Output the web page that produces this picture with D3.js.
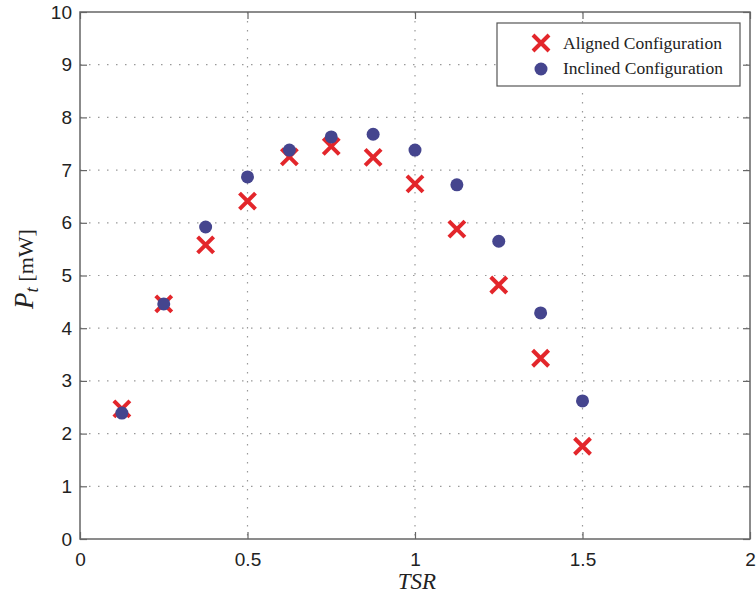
<!DOCTYPE html>
<html lang="en">
<head>
<meta charset="UTF-8">
<title>TSR vs Pt</title>
<script src="https://d3js.org/d3.v7.min.js"></script>
<style>
    * { margin: 0; padding: 0; }
    body { background: #fff; }
    .tick text { font-family: "Liberation Sans", Arial, sans-serif; font-size: 19px; fill: #222; }
</style>
</head>
<body>
<script>
    // data
    var tsr = [0.125, 0.25, 0.375, 0.5, 0.625, 0.75, 0.875, 1.0, 1.125, 1.25, 1.375, 1.5]
    var aligned = [2.47, 4.46, 5.58, 6.41, 7.25, 7.45, 7.24, 6.74, 5.88, 4.82, 3.43, 1.76]
    var inclined = [2.39, 4.46, 5.92, 6.87, 7.38, 7.63, 7.68, 7.38, 6.72, 5.65, 4.29, 2.62]
    var xTicks = [0, 0.5, 1, 1.5, 2]
    var yTicks = [0, 1, 2, 3, 4, 5, 6, 7, 8, 9, 10]
    var legendLabels = ["Aligned Configuration", "Inclined Configuration"]

    var W = 756, H = 596
    var pLeft = 80, pRight = 750, pTop = 12, pBottom = 539
    var axisColor = "#666"

    var svg = d3.select("body").append("svg")
        .attr("width", W).attr("height", H)

    var x = d3.scaleLinear().domain([0, 2]).range([pLeft, pRight])
    var y = d3.scaleLinear().domain([0, 10]).range([pBottom, pTop])

    // dotted grid
    var grid = svg.append("g")
    grid.selectAll(".gx").data(xTicks.slice(1, -1)).enter().append("line")
        .attr("x1", d => x(d)).attr("x2", d => x(d))
        .attr("y1", pTop).attr("y2", pBottom)
        .attr("stroke", "#999").attr("stroke-width", 1.2)
        .attr("stroke-dasharray", "1.5,7.5")
    grid.selectAll(".gy").data(yTicks.slice(1, -1)).enter().append("line")
        .attr("y1", d => y(d)).attr("y2", d => y(d))
        .attr("x1", pLeft).attr("x2", pRight)
        .attr("stroke", "#999").attr("stroke-width", 1.2)
        .attr("stroke-dasharray", "1.5,7.5")

    // axes with inward ticks on all four sides
    function styleAxis(g) {
        g.select(".domain").remove()
        g.selectAll(".tick line").attr("stroke", axisColor).attr("stroke-width", 1.2)
    }
    svg.append("g").attr("transform", "translate(0," + pBottom + ")")
        .call(d3.axisBottom(x).tickValues(xTicks).tickFormat(d3.format("")).tickSize(-7).tickPadding(14))
        .call(styleAxis)
    svg.append("g").attr("transform", "translate(" + pLeft + ",0)")
        .call(d3.axisLeft(y).tickValues(yTicks).tickSize(-7).tickPadding(8))
        .call(styleAxis)
    svg.append("g").attr("transform", "translate(0," + pTop + ")")
        .call(d3.axisTop(x).tickValues(xTicks).tickFormat("").tickSize(-7))
        .call(styleAxis)
    svg.append("g").attr("transform", "translate(" + pRight + ",0)")
        .call(d3.axisRight(y).tickValues(yTicks).tickFormat("").tickSize(-7))
        .call(styleAxis)

    svg.append("rect")
        .attr("x", pLeft).attr("y", pTop)
        .attr("width", pRight - pLeft).attr("height", pBottom - pTop)
        .attr("fill", "none").attr("stroke", axisColor).attr("stroke-width", 1.5)

    // aligned: red crosses
    var cs = 8
    function cross(g, cx, cy, s) {
        g.append("path")
            .attr("d", "M" + (cx - s) + "," + (cy - s) + "L" + (cx + s) + "," + (cy + s) +
                       "M" + (cx - s) + "," + (cy + s) + "L" + (cx + s) + "," + (cy - s))
            .attr("stroke", "#e3262b").attr("stroke-width", 4).attr("fill", "none")
    }
    var gA = svg.append("g")
    tsr.forEach(function(t, i) { cross(gA, x(t), y(aligned[i]), cs) })

    // inclined: navy dots
    svg.append("g").selectAll("circle").data(tsr).enter().append("circle")
        .attr("cx", d => x(d))
        .attr("cy", (d, i) => y(inclined[i]))
        .attr("r", 6.5)
        .attr("fill", "#45458e")

    // axis labels
    svg.append("text")
        .attr("x", (pLeft + pRight) / 2 + 2).attr("y", 589)
        .attr("text-anchor", "middle")
        .attr("font-family", "Liberation Serif, Times New Roman, serif")
        .attr("font-style", "italic").attr("font-size", 23).attr("fill", "#222")
        .text("TSR")

    var yl = svg.append("text")
        .attr("transform", "translate(33,269) rotate(-90)")
        .attr("text-anchor", "middle")
        .attr("font-family", "Liberation Serif, Times New Roman, serif")
        .attr("fill", "#222")
    yl.append("tspan").attr("font-style", "italic").attr("font-size", 27).text("P")
    yl.append("tspan").attr("font-style", "italic").attr("font-size", 19).attr("dy", 5).text("t")
    yl.append("tspan").attr("font-size", 22).attr("dy", -5).text(" [mW]")

    // legend
    var lg = svg.append("g")
    lg.append("rect")
        .attr("x", 497).attr("y", 23).attr("width", 243).attr("height", 63)
        .attr("fill", "#fff").attr("stroke", "#555").attr("stroke-width", 1.2)
    cross(lg, 541, 43, cs)
    lg.append("circle").attr("cx", 541).attr("cy", 69).attr("r", 6.5).attr("fill", "#45458e")
    lg.selectAll(".lt").data(legendLabels).enter().append("text")
        .attr("x", 563).attr("y", (d, i) => 49 + i * 25)
        .attr("font-family", "Liberation Serif, Times New Roman, serif")
        .attr("font-size", 17.5).attr("fill", "#222")
        .text(d => d)
</script>
</body>
</html>
